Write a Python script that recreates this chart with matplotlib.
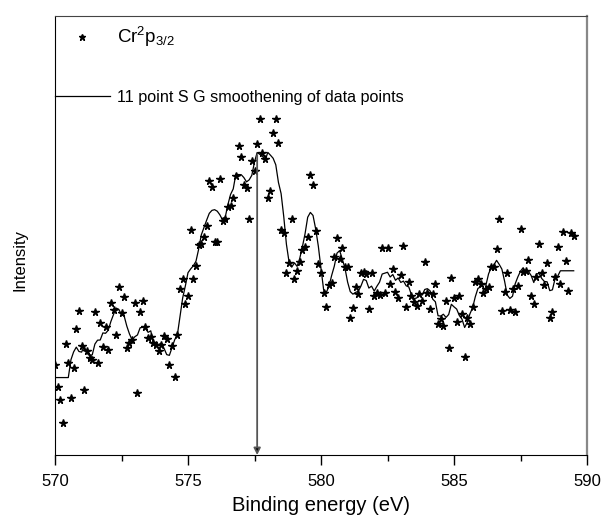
import numpy as np
import matplotlib
matplotlib.use("Agg")
import matplotlib.pyplot as plt
from matplotlib.lines import Line2D

plt.rcParams['font.family'] = ['Liberation Sans', 'DejaVu Sans']
plt.rcParams['mathtext.fontset'] = 'custom'
plt.rcParams['mathtext.rm'] = 'Liberation Sans'
plt.rcParams['mathtext.it'] = 'Liberation Sans:italic'
plt.rcParams['mathtext.default'] = 'regular'

# ---- data (binding energy in eV, intensity in arbitrary units) ----
energy_start = 570.0
energy_step = 0.1
intensity = [
    90, 68, 55, 32, 111, 92, 57, 87, 126, 144,
    109, 65, 104, 97, 95, 143, 92, 132, 108, 128,
    105, 152, 145, 120, 168, 142, 158, 107, 112, 115,
    152, 62, 143, 154, 128, 117, 118, 112, 110, 104,
    110, 119, 116, 90, 109, 78, 120, 166, 176, 151,
    159, 225, 176, 189, 210, 211, 218, 229, 274, 268,
    213, 213, 276, 234, 236, 248, 249, 257, 279, 309,
    298, 270, 267, 236, 294, 284, 311, 336, 302, 296,
    257, 264, 322, 336, 312, 225, 222, 182, 192, 236,
    176, 184, 193, 205, 208, 218, 280, 270, 224, 191,
    182, 162, 148, 170, 172, 198, 217, 196, 207, 188,
    188, 137, 147, 168, 161, 182, 183, 181, 146, 182,
    159, 162, 160, 207, 162, 207, 171, 186, 163, 157,
    180, 209, 148, 173, 159, 153, 149, 161, 154, 193,
    162, 146, 161, 171, 131, 136, 129, 154, 107, 177,
    157, 133, 159, 141, 98, 137, 131, 148, 173, 176,
    171, 162, 166, 168, 188, 188, 206, 236, 144, 163,
    182, 145, 166, 143, 169, 226, 183, 184, 195, 159,
    151, 178, 211, 182, 170, 192, 137, 143, 178, 208,
    171, 223, 194, 164, 222, 219,
]
sg_window = 11
sg_order = 2
arrow_energy = 577.6
arrow_top = 300

intensity = np.array(intensity, dtype=float)
energy = energy_start + energy_step * np.arange(len(intensity))

# Savitzky-Golay smoothing (11 points, quadratic)
half = sg_window // 2
offs = np.arange(-half, half + 1)
A = np.vander(offs, sg_order + 1, increasing=True)
coef = np.linalg.pinv(A)[0]
valid = np.convolve(intensity, coef[::-1], mode='valid')
smooth = np.concatenate([np.full(half, valid[0]), valid, np.full(half, valid[-1])])

fig = plt.figure(figsize=(6.02, 5.22), dpi=100)
ax = fig.add_axes([55/602, 67/522, 532/602, 439/522])

ax.plot(energy, intensity, linestyle='none', marker='*', color='black',
        markersize=5.6)
ax.plot(energy, smooth, color='black', linewidth=0.9)

ax.annotate('', xy=(arrow_energy, 0), xytext=(arrow_energy, arrow_top),
            arrowprops=dict(arrowstyle='-|>', color='#555555', lw=1.3,
                            mutation_scale=10, shrinkA=0, shrinkB=0,
                            fc='black'))

ax.set_xlim(570, 590)
ax.set_ylim(0, 439)
ax.set_xticks([570, 575, 580, 585, 590])
ax.set_xticks([572.5, 577.5, 582.5, 587.5], minor=True)
ax.set_yticks([])
ax.tick_params(axis='x', which='major', direction='out', length=7, width=1,
               labelsize=12, pad=7, top=False)
ax.tick_params(axis='x', which='minor', direction='out', length=4.5, width=1, top=False)
ax.spines['right'].set_color('#888888')
ax.spines['right'].set_linewidth(1.6)
ax.spines['top'].set_color('#444444')

ax.set_xlabel('Binding energy (eV)', fontsize=14.5, labelpad=5)
ax.set_ylabel('Intensity', fontsize=12)
ax.yaxis.set_label_coords(-0.052, 0.444)

handles = [Line2D([], [], linestyle='none', marker='*', color='black', markersize=5),
           Line2D([], [], color='black', linewidth=0.9)]
labels = ['Cr$^2$p$_{3/2}$', '11 point S G smoothening of data points']
leg = ax.legend(handles, labels, loc='upper left', bbox_to_anchor=(0.0, 0.98),
                frameon=False, fontsize=11.6, handlelength=3.4, handletextpad=0.45,
                labelspacing=2.55, borderpad=0, borderaxespad=0)
leg.get_texts()[0].set_fontsize(13.5)

fig.savefig('out.png', dpi=100)
